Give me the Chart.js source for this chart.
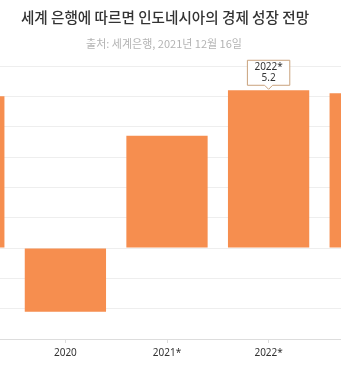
<!DOCTYPE html>
<html>
<head>
<meta charset="utf-8">
<script src="https://cdn.jsdelivr.net/npm/chart.js@4/dist/chart.umd.min.js"></script>
<style>
  html, body { margin: 0; padding: 0; background: #fff; }
  #wrap { position: relative; width: 341px; height: 387px; overflow: hidden; }
  #title {
    position: absolute; left: 0; top: 6px; width: 330px; text-align: center;
    font: 500 14.6px "Noto Sans CJK KR", sans-serif; color: #333; white-space: nowrap;
  }
  #subtitle {
    position: absolute; left: 0; top: 35px; width: 328px; text-align: center;
    font: 11px "Noto Sans CJK KR", sans-serif; color: #b3b3b3; white-space: nowrap;
  }
  #chartBox { position: absolute; left: -87px; top: 0; width: 508px; height: 387px; }
</style>
</head>
<body>
<div id="wrap">
  <div id="chartBox"><canvas id="growth" width="508" height="387"></canvas></div>
  <div id="title">세계 은행에 따르면 인도네시아의 경제 성장 전망</div>
  <div id="subtitle">출처: 세계은행, 2021년 12월 16일</div>
</div>
<script>
// GDP growth, % (forecast years marked with *)
const years = ['2019', '2020', '2021*', '2022*', '2023*'];
const growth = [5.0, -2.1, 3.7, 5.2, 5.1];
const highlightIndex = 3;

// callout box over the highlighted bar
const calloutPlugin = {
  id: 'callout',
  afterDatasetsDraw(chart) {
    const bar = chart.getDatasetMeta(0).data[highlightIndex];
    if (!bar) return;
    const c = chart.ctx;
    const lines = [years[highlightIndex], growth[highlightIndex].toFixed(1)];
    c.save();
    c.font = '10px "Noto Sans", sans-serif';
    const w = Math.max(...lines.map(t => c.measureText(t).width)) + 14;
    const h = 25;
    const bottom = bar.y - 5;
    const left = bar.x - w / 2;
    c.beginPath();
    c.moveTo(left, bottom - h);
    c.lineTo(left + w, bottom - h);
    c.lineTo(left + w, bottom);
    c.lineTo(bar.x + 4, bottom);
    c.lineTo(bar.x, bottom + 4);
    c.lineTo(bar.x - 4, bottom);
    c.lineTo(left, bottom);
    c.closePath();
    c.fillStyle = '#fff';
    c.fill();
    c.strokeStyle = '#c9a27c';
    c.lineWidth = 1;
    c.stroke();
    c.fillStyle = '#333';
    c.textAlign = 'center';
    c.textBaseline = 'middle';
    c.fillText(lines[0], bar.x, bottom - h + 7);
    c.fillText(lines[1], bar.x, bottom - h + 18);
    c.restore();
  }
};

new Chart(document.getElementById('growth').getContext('2d'), {
  type: 'bar',
  data: {
    labels: years,
    datasets: [{
      data: growth,
      backgroundColor: '#f68e4f',
      borderWidth: 0,
      barPercentage: 0.8,
      categoryPercentage: 1
    }]
  },
  options: {
    responsive: false,
    animation: false,
    devicePixelRatio: 1,
    layout: { padding: { top: 66, bottom: 24, left: 0, right: 0 } },
    plugins: { legend: { display: false }, tooltip: { enabled: false } },
    scales: {
      x: {
        grid: { offset: false, drawOnChartArea: false, drawTicks: true, tickLength: 4, color: '#dddddd' },
        border: { color: '#dddddd' },
        ticks: { padding: 4, color: '#333', font: { family: '"Noto Sans", sans-serif', size: 10 } }
      },
      y: {
        min: -3,
        max: 6,
        ticks: { display: false, stepSize: 1 },
        grid: { drawTicks: false, color: '#eeeeee' },
        border: { display: false }
      }
    }
  },
  plugins: [calloutPlugin]
});
</script>
</body>
</html>
